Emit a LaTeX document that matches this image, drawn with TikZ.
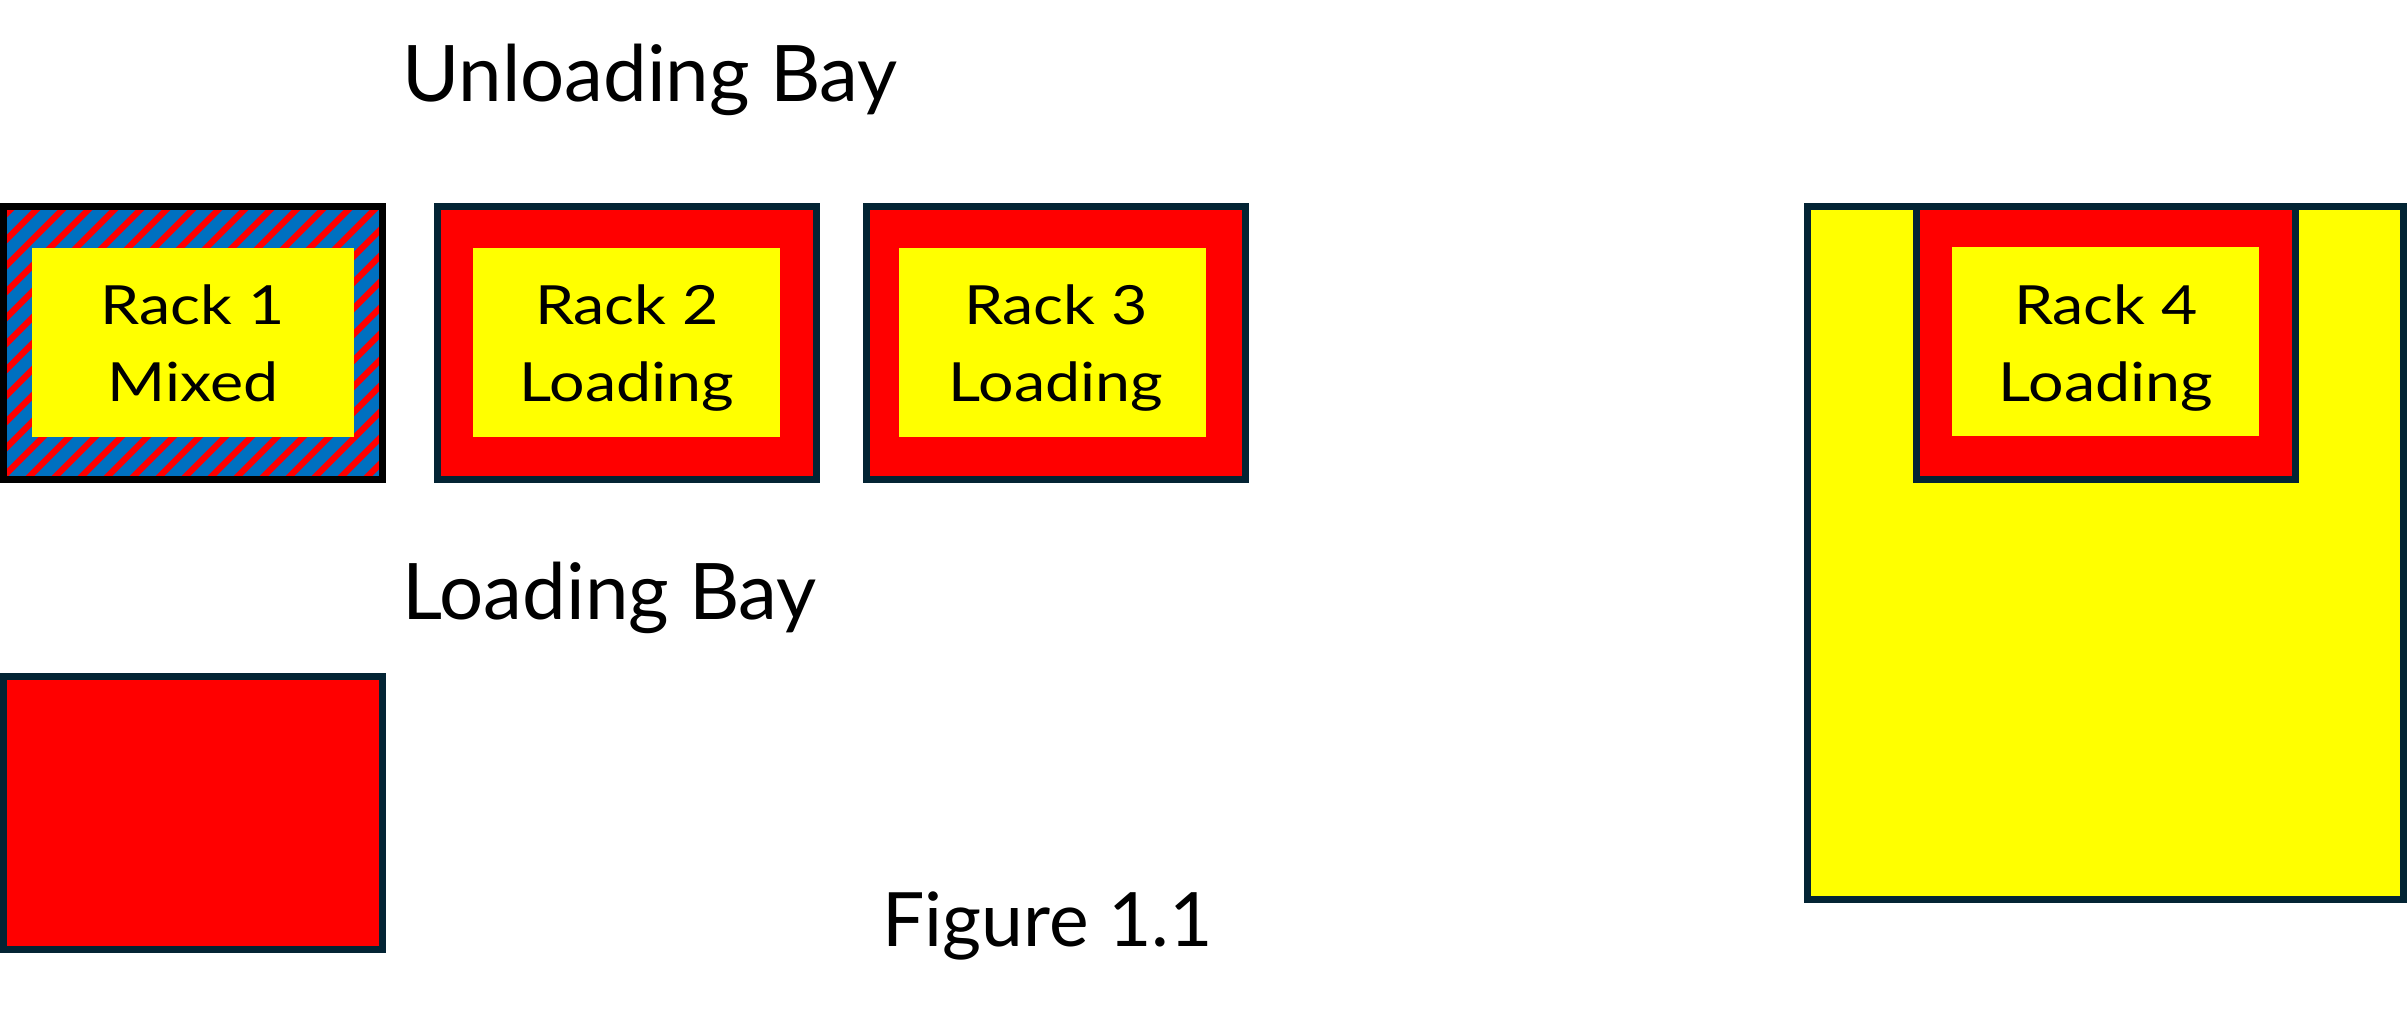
\documentclass[tikz,border=0pt]{standalone}
\usepackage{fontspec}
\setmainfont{Lato}
\newfontfamily\rackfont[FakeStretch=1.16]{Lato}
\definecolor{rackred}{RGB}{255,0,0}
\definecolor{rackyellow}{RGB}{255,255,0}
\definecolor{mixblue}{RGB}{0,112,192}
\definecolor{edge}{RGB}{3,36,52}
\begin{document}
\begin{tikzpicture}[x=0.5pt,y=-0.5pt,
  frame/.style={draw=edge, line width=3.5pt},
  heading/.style={anchor=base west, inner sep=0pt, font=\fontsize{39}{47}\selectfont},
  racklabel/.style={anchor=base, inner sep=0pt, font=\rackfont\fontsize{27}{33}\selectfont}]
\useasboundingbox (0,0) rectangle (2407,1019);
\fill[white] (0,0) rectangle (2407,1019);

% Rack 1: mixed, hatched red over blue
\fill[mixblue] (3.5,206.5) rectangle (382.5,479.5);
\begin{scope}
  \clip (3.5,206.5) rectangle (382.5,479.5);
  \foreach \s in {-296,-270,...,400}
    \draw[rackred, line width=3.1pt] (\s,490) -- ++(300,-300);
\end{scope}
\fill[rackyellow] (32,248) rectangle (354,437);
\draw[black, line width=3.5pt] (3.5,206.5) rectangle (382.5,479.5);

% Racks 2 and 3: loading
\draw[frame, fill=rackred] (437.5,206.5) rectangle (816.5,479.5);
\fill[rackyellow] (473,248) rectangle (780,437);
\draw[frame, fill=rackred] (866.5,206.5) rectangle (1245.5,479.5);
\fill[rackyellow] (899,248) rectangle (1206,437);

% Yard area with rack 4
\draw[frame, fill=rackyellow] (1807.5,206.5) rectangle (2403.5,899.5);
\draw[frame, fill=rackred] (1916.5,206.5) rectangle (2295.5,479.5);
\fill[rackyellow] (1952,247) rectangle (2259,436);

% Loading bay
\draw[frame, fill=rackred] (3.5,676.5) rectangle (382.5,949.5);

% Labels
\node[heading] (unloading) at (402,101) {Unloading Bay};
\node[heading] (loading) at (402,619) {Loading Bay};
\node[heading, font=\fontsize{37.5}{45}\selectfont] (caption) at (882,946) {Figure 1.1};

\node[racklabel] (r1a) at (193,324) {Rack 1};
\node[racklabel] (r1b) at (193,401) {Mixed};
\node[racklabel] (r2a) at (627,324) {Rack 2};
\node[racklabel] (r2b) at (627,401) {Loading};
\node[racklabel] (r3a) at (1056,324) {Rack 3};
\node[racklabel] (r3b) at (1056,401) {Loading};
\node[racklabel] (r4a) at (2106,324) {Rack 4};
\node[racklabel] (r4b) at (2106,401) {Loading};
\end{tikzpicture}
\end{document}
